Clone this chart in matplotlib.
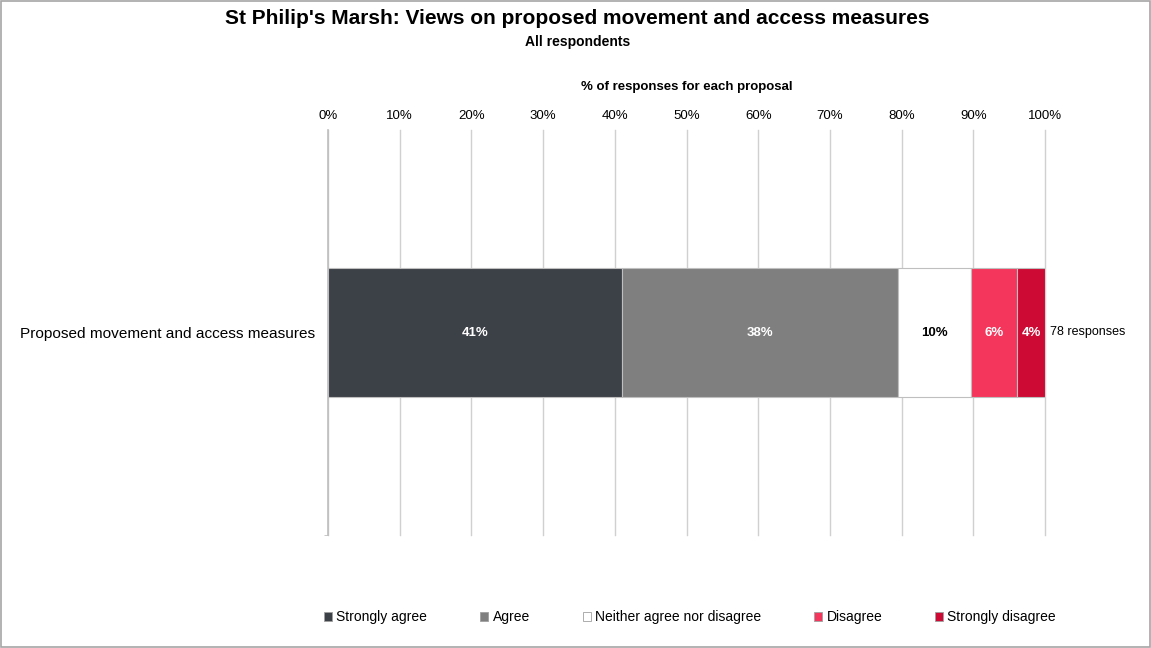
import matplotlib.pyplot as plt
from matplotlib.patches import Rectangle, Patch

plt.rcParams['font.family'] = ['Liberation Sans', 'DejaVu Sans']

# data
proposal = 'Proposed movement and access measures'
categories = ['Strongly agree', 'Agree', 'Neither agree nor disagree', 'Disagree', 'Strongly disagree']
counts = [32, 30, 8, 5, 3]
total_responses = 78
colors = ['#3C4047', '#7F7F7F', '#FFFFFF', '#F5365C', '#CC0A33']
label_colors = ['white', 'white', 'black', 'white', 'white']
xticks = [0, 10, 20, 30, 40, 50, 60, 70, 80, 90, 100]

shares = [c / total_responses * 100 for c in counts]

fig = plt.figure(figsize=(11.51, 6.48), dpi=100)
ax = fig.add_axes([328 / 1151, 1 - 535 / 648, (1045 - 328) / 1151, (535 - 130) / 648])

left = 0
for cat, share, col, lc in zip(categories, shares, colors, label_colors):
    ax.barh([0], [share], left=left, height=0.32, color=col, edgecolor='#BFBFBF',
            linewidth=0.8, zorder=3, label=cat)
    ax.text(left + share / 2, 0, f'{share:.0f}%', ha='center', va='center',
            color=lc, fontsize=9.5, fontweight='bold', zorder=4)
    left += share

ax.text(100.7, 0, f'{total_responses} responses', ha='left', va='center', fontsize=9)

ax.set_xlim(0, 100)
ax.set_ylim(-0.5, 0.5)
ax.set_xticks(xticks)
ax.set_xticklabels([f'{t}%' for t in xticks], fontsize=9.5)
ax.xaxis.tick_top()
ax.xaxis.set_label_position('top')
ax.tick_params(axis='x', length=0, pad=6)
ax.set_xlabel('% of responses for each proposal', fontsize=9.5, fontweight='bold', labelpad=14)

ax.set_yticks([0])
ax.set_yticklabels([proposal], fontsize=11.1)
ax.tick_params(axis='y', length=0, pad=9.5)
ax.set_yticks([-0.5], minor=True)
ax.tick_params(axis='y', which='minor', length=3, color='#BFBFBF')

ax.grid(axis='x', color='#D0D0D0', linewidth=1, zorder=0)
for gl in ax.get_xgridlines():
    gl.set_clip_on(False)
for s in ['top', 'right', 'bottom']:
    ax.spines[s].set_visible(False)
ax.spines['left'].set_color('#BFBFBF')
ax.spines['left'].set_linewidth(1.2)

fig.text(0.5015, 1 - 19 / 648, "St Philip's Marsh: Views on proposed movement and access measures",
         ha='center', va='center', fontsize=15, fontweight='bold')
fig.text(0.5015, 1 - 42 / 648, 'All respondents', ha='center', va='center',
         fontsize=10, fontweight='bold')

handles = [Patch(facecolor=c, edgecolor='#A0A0A0', linewidth=0.6) for c in colors]
fig.legend(handles, categories, loc='center', bbox_to_anchor=(690 / 1151, 1 - 617 / 648),
           ncol=5, frameon=False, fontsize=10, handlelength=0.6, handleheight=0.6,
           handletextpad=0.3, columnspacing=3.8)

fig.patches.append(Rectangle((0.001, 0.001), 0.998, 0.998, transform=fig.transFigure,
                             fill=False, edgecolor='#A6A6A6', linewidth=1.2))

fig.savefig('out.png', dpi=100)
